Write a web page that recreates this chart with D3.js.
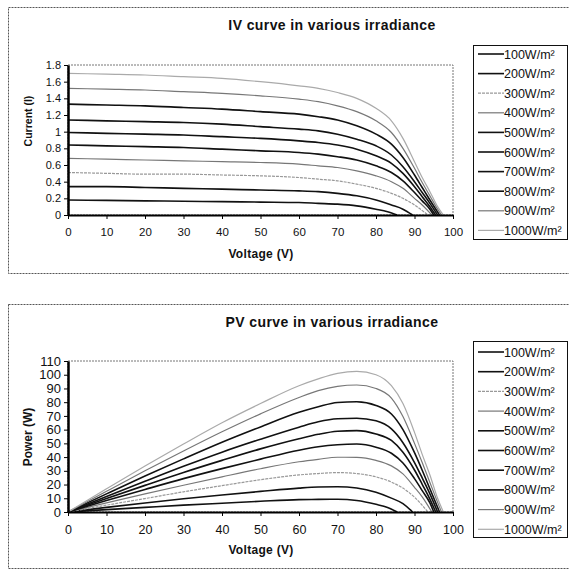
<!DOCTYPE html>
<html>
<head>
<meta charset="utf-8">
<script src="https://cdn.jsdelivr.net/npm/d3@7"></script>
<style>
  body { margin: 0; background: #fff; }
  text { font-family: "Liberation Sans", Arial, sans-serif; }
</style>
</head>
<body>
<div id="myDiv"></div>
<script>
// irradiance levels (W/m2) and the legend labels
const irradiance = [100, 200, 300, 400, 500, 600, 700, 800, 900, 1000];
const legendLabels = ["100W/m²", "200W/m²", "300W/m²", "400W/m²", "500W/m²",
                      "600W/m²", "700W/m²", "800W/m²", "900W/m²", "1000W/m²"];

const xTicks = [0, 10, 20, 30, 40, 50, 60, 70, 80, 90, 100];
const ivTicks = [0, 0.2, 0.4, 0.6, 0.8, 1, 1.2, 1.4, 1.6, 1.8];
const pvTicks = [0, 10, 20, 30, 40, 50, 60, 70, 80, 90, 100, 110];

// IV curves : [voltage, current]
const iv100 = [[0,0.18],[10,0.175],[20,0.17],[30,0.165],[40,0.16],[50,0.155],[60,0.15],[65,0.14],[70,0.13],[75,0.11],[80,0.07],[83,0.04],[85.5,0]];
const iv200 = [[0,0.34],[10,0.34],[20,0.33],[30,0.32],[40,0.31],[50,0.30],[60,0.29],[65,0.28],[70,0.26],[75,0.23],[80,0.18],[84,0.12],[87,0.07],[89.5,0]];
const iv300 = [[0,0.51],[10,0.50],[20,0.49],[30,0.49],[40,0.48],[50,0.47],[60,0.45],[65,0.43],[70,0.41],[75,0.37],[80,0.32],[84,0.26],[87,0.20],[90,0.12],[93.5,0]];
const iv400 = [[0,0.68],[10,0.67],[20,0.66],[30,0.65],[40,0.64],[50,0.63],[60,0.61],[65,0.59],[70,0.57],[75,0.53],[80,0.47],[84,0.40],[87,0.32],[90,0.20],[92,0.12],[94.5,0]];
const iv500 = [[0,0.84],[10,0.83],[20,0.82],[30,0.81],[40,0.79],[50,0.77],[60,0.75],[65,0.73],[70,0.70],[75,0.66],[80,0.59],[84,0.51],[87,0.41],[90,0.27],[92,0.17],[94,0.07],[95,0]];
const iv600 = [[0,0.99],[10,0.98],[20,0.97],[30,0.96],[40,0.94],[50,0.92],[60,0.89],[65,0.87],[70,0.84],[75,0.79],[80,0.71],[84,0.62],[87,0.50],[90,0.34],[92,0.22],[94,0.10],[95.5,0]];
const iv700 = [[0,1.14],[10,1.13],[20,1.12],[30,1.11],[40,1.09],[50,1.06],[60,1.03],[65,1.01],[70,0.97],[75,0.91],[80,0.83],[84,0.72],[87,0.58],[90,0.40],[92,0.27],[94,0.14],[96,0]];
const iv800 = [[0,1.33],[10,1.32],[20,1.31],[30,1.29],[40,1.27],[50,1.24],[60,1.21],[65,1.18],[70,1.14],[75,1.07],[80,0.97],[84,0.85],[87,0.69],[90,0.48],[92,0.33],[94,0.18],[96.5,0]];
const iv900 = [[0,1.52],[10,1.51],[20,1.50],[30,1.48],[40,1.46],[50,1.43],[60,1.39],[65,1.36],[70,1.31],[75,1.24],[80,1.13],[84,0.99],[87,0.80],[90,0.56],[92,0.39],[94,0.23],[96,0.07],[97,0]];
const iv1000 = [[0,1.70],[10,1.69],[20,1.68],[30,1.66],[40,1.64],[50,1.60],[60,1.55],[65,1.52],[70,1.47],[75,1.40],[80,1.28],[84,1.13],[87,0.92],[90,0.64],[92,0.45],[94,0.28],[96,0.10],[97.5,0]];

// PV curves : [voltage, power]
const pv100 = [[0,0],[10,1.75],[20,3.4],[30,5],[40,6.4],[50,7.8],[60,9],[65,9.2],[70,9.3],[75,8.4],[80,5.6],[83,3.3],[85.5,0]];
const pv200 = [[0,0],[10,3.4],[20,6.6],[30,9.6],[40,12.4],[50,15],[60,17.4],[65,18.2],[70,18.4],[75,17.5],[80,14.4],[84,10.1],[87,6.1],[89.5,0]];
const pv300 = [[0,0],[10,5],[20,9.8],[30,14.7],[40,19.2],[50,23.5],[60,27],[65,28],[70,28.7],[75,28],[80,25.6],[84,21.8],[87,17.4],[90,10.8],[93.5,0]];
const pv400 = [[0,0],[10,6.7],[20,13.2],[30,19.5],[40,25.6],[50,31.5],[60,36.6],[65,38.4],[70,39.9],[75,39.8],[80,37.6],[84,33.6],[87,27.8],[90,18],[92,11],[94.5,0]];
const pv500 = [[0,0],[10,8.3],[20,16.4],[30,24.3],[40,31.6],[50,38.5],[60,45],[65,47.5],[70,49],[75,49.5],[80,47.2],[84,42.8],[87,35.7],[90,24.3],[92,15.6],[94,6.6],[95,0]];
const pv600 = [[0,0],[10,9.8],[20,19.4],[30,28.8],[40,37.6],[50,46],[60,53.4],[65,56.6],[70,58.8],[75,59.3],[80,56.8],[84,52.1],[87,43.5],[90,30.6],[92,20.2],[94,9.4],[95.5,0]];
const pv700 = [[0,0],[10,11.3],[20,22.4],[30,33.3],[40,43.6],[50,53],[60,61.8],[65,65.7],[70,67.9],[75,68.3],[80,66.4],[84,60.5],[87,50.5],[90,36],[92,24.8],[94,13.2],[96,0]];
const pv800 = [[0,0],[10,13.2],[20,26.2],[30,38.7],[40,50.8],[50,62],[60,72.6],[65,76.7],[70,79.8],[75,80.3],[80,77.6],[84,71.4],[87,60],[90,43.2],[92,30.4],[94,16.9],[96.5,0]];
const pv900 = [[0,0],[10,15.1],[20,30],[30,44.4],[40,58.4],[50,71.5],[60,83.4],[65,88.4],[70,91.5],[75,92.5],[80,90],[84,83],[87,69.5],[90,50],[92,36],[94,21.5],[96,7],[97,0]];
const pv1000 = [[0,0],[10,16.9],[20,33.5],[30,49.5],[40,65],[50,79],[60,92],[65,97],[70,101],[75,102.5],[80,100],[84,92],[87,79],[90,58],[92,42],[94,27],[96,10],[97.5,0]];

const ivSeries = [iv100, iv200, iv300, iv400, iv500, iv600, iv700, iv800, iv900, iv1000];
const pvSeries = [pv100, pv200, pv300, pv400, pv500, pv600, pv700, pv800, pv900, pv1000];

// line look for each irradiance (black / grey / light grey)
const styles = [
  { c: "#111", w: 1.6 }, { c: "#111", w: 1.6 }, { c: "#999", w: 1.2, d: "3,1" },
  { c: "#777", w: 1.2 }, { c: "#111", w: 1.6 }, { c: "#111", w: 1.6 },
  { c: "#111", w: 1.6 }, { c: "#111", w: 1.6 }, { c: "#777", w: 1.2 },
  { c: "#aaa", w: 1.2 }
];

let svg = d3.select("#myDiv").append("svg")
  .attr("width", 569)
  .attr("height", 570);

function drawChart(o) {
  // outer frame
  svg.append("rect")
    .attr("x", 8.5).attr("y", o.frameTop + 0.5)
    .attr("width", 580).attr("height", o.frameH)
    .attr("fill", "none").attr("stroke", "#555").attr("stroke-width", 1)
    .attr("stroke-dasharray", "2,1");

  svg.append("text")
    .attr("x", 332).attr("y", o.titleY)
    .attr("text-anchor", "middle")
    .attr("font-size", "14px").attr("font-weight", "bold")
    .attr("letter-spacing", "0.4px")
    .attr("fill", "#111")
    .text(o.title);

  let x = d3.scaleLinear().domain([0, 100]).range([68, 453]);
  let y = d3.scaleLinear().domain(o.yDomain).range([o.bottom, o.top]);

  // plot area border (grey, dotted)
  svg.append("rect")
    .attr("x", 68).attr("y", o.top)
    .attr("width", 453 - 68).attr("height", o.bottom - o.top)
    .attr("fill", "none").attr("stroke", "#777").attr("stroke-dasharray", "2,1");

  let line = d3.line()
    .x(d => x(d[0]))
    .y(d => y(d[1]))
    .curve(d3.curveMonotoneX);

  svg.append("g").selectAll("path").data(o.series).enter().append("path")
    .attr("d", d => line(d))
    .attr("fill", "none")
    .attr("stroke", (d, i) => styles[i].c)
    .attr("stroke-width", (d, i) => styles[i].w)
    .attr("stroke-dasharray", (d, i) => styles[i].d || null);

  // axes
  let xAxis = svg.append("g")
    .attr("transform", "translate(0," + o.bottom + ")")
    .call(d3.axisBottom(x).tickValues(xTicks).tickSize(4).tickSizeOuter(0));
  xAxis.select(".domain").attr("stroke", "#000").attr("stroke-width", 2);
  xAxis.selectAll("text")
    .attr("font-size", o.xFont).attr("fill", "#111").attr("dy", o.xDy);

  let yAxis = svg.append("g")
    .attr("transform", "translate(68,0)")
    .call(d3.axisLeft(y).tickValues(o.yTicks).tickSize(4).tickSizeOuter(0)
      .tickFormat(d3.format("~g")));
  yAxis.select(".domain").attr("stroke", "#000").attr("stroke-width", 2.5);
  yAxis.selectAll("text")
    .attr("font-size", o.yFont).attr("fill", "#111").attr("x", -7);
  svg.selectAll(".domain").attr("fill", "none");

  // axis titles
  svg.append("text")
    .attr("x", 261).attr("y", o.xLabelY)
    .attr("text-anchor", "middle")
    .attr("font-size", "12px").attr("font-weight", "bold").attr("fill", "#111")
    .attr("letter-spacing", "0.3px")
    .text("Voltage (V)");

  svg.append("text")
    .attr("transform", "translate(" + 32 + "," + o.yLabelMid + ") rotate(-90)")
    .attr("text-anchor", "middle")
    .attr("font-size", o.yLabelFont).attr("font-weight", "bold").attr("fill", "#111")
    .text(o.yLabel);

  // legend
  svg.append("rect")
    .attr("x", 473.5).attr("y", o.legTop + 0.5)
    .attr("width", 94).attr("height", o.legH)
    .attr("fill", "#fff").attr("stroke", "#111");

  let leg = svg.append("g").selectAll("g").data(legendLabels).enter().append("g")
    .attr("transform", (d, i) => "translate(0," + (o.legFirst + i * o.legStep) + ")");
  leg.append("line")
    .attr("x1", 478).attr("x2", 504)
    .attr("stroke", (d, i) => styles[i].c)
    .attr("stroke-width", (d, i) => styles[i].w)
    .attr("stroke-dasharray", (d, i) => styles[i].d || null);
  leg.append("text")
    .attr("x", 504).attr("y", 4.5)
    .attr("font-size", "12.5px").attr("fill", "#111")
    .text(d => d);
}

drawChart({
  title: "IV curve in various irradiance", frameTop: 7, frameH: 266, titleY: 30,
  top: 65, bottom: 215, yDomain: [0, 1.8], yTicks: ivTicks, series: ivSeries,
  xFont: "11.5px", xDy: "1.2em", yFont: "11px", xLabelY: 258,
  yLabel: "Current (I)", yLabelMid: 121, yLabelFont: "10.5px",
  legTop: 45, legH: 194, legFirst: 54, legStep: 19.6
});

drawChart({
  title: "PV curve in various irradiance", frameTop: 304, frameH: 264, titleY: 327,
  top: 361, bottom: 512, yDomain: [0, 110], yTicks: pvTicks, series: pvSeries,
  xFont: "12.5px", xDy: "1.2em", yFont: "13px", xLabelY: 554,
  yLabel: "Power (W)", yLabelMid: 437, yLabelFont: "12px",
  legTop: 341, legH: 196, legFirst: 352, legStep: 19.7
});
</script>
</body>
</html>
